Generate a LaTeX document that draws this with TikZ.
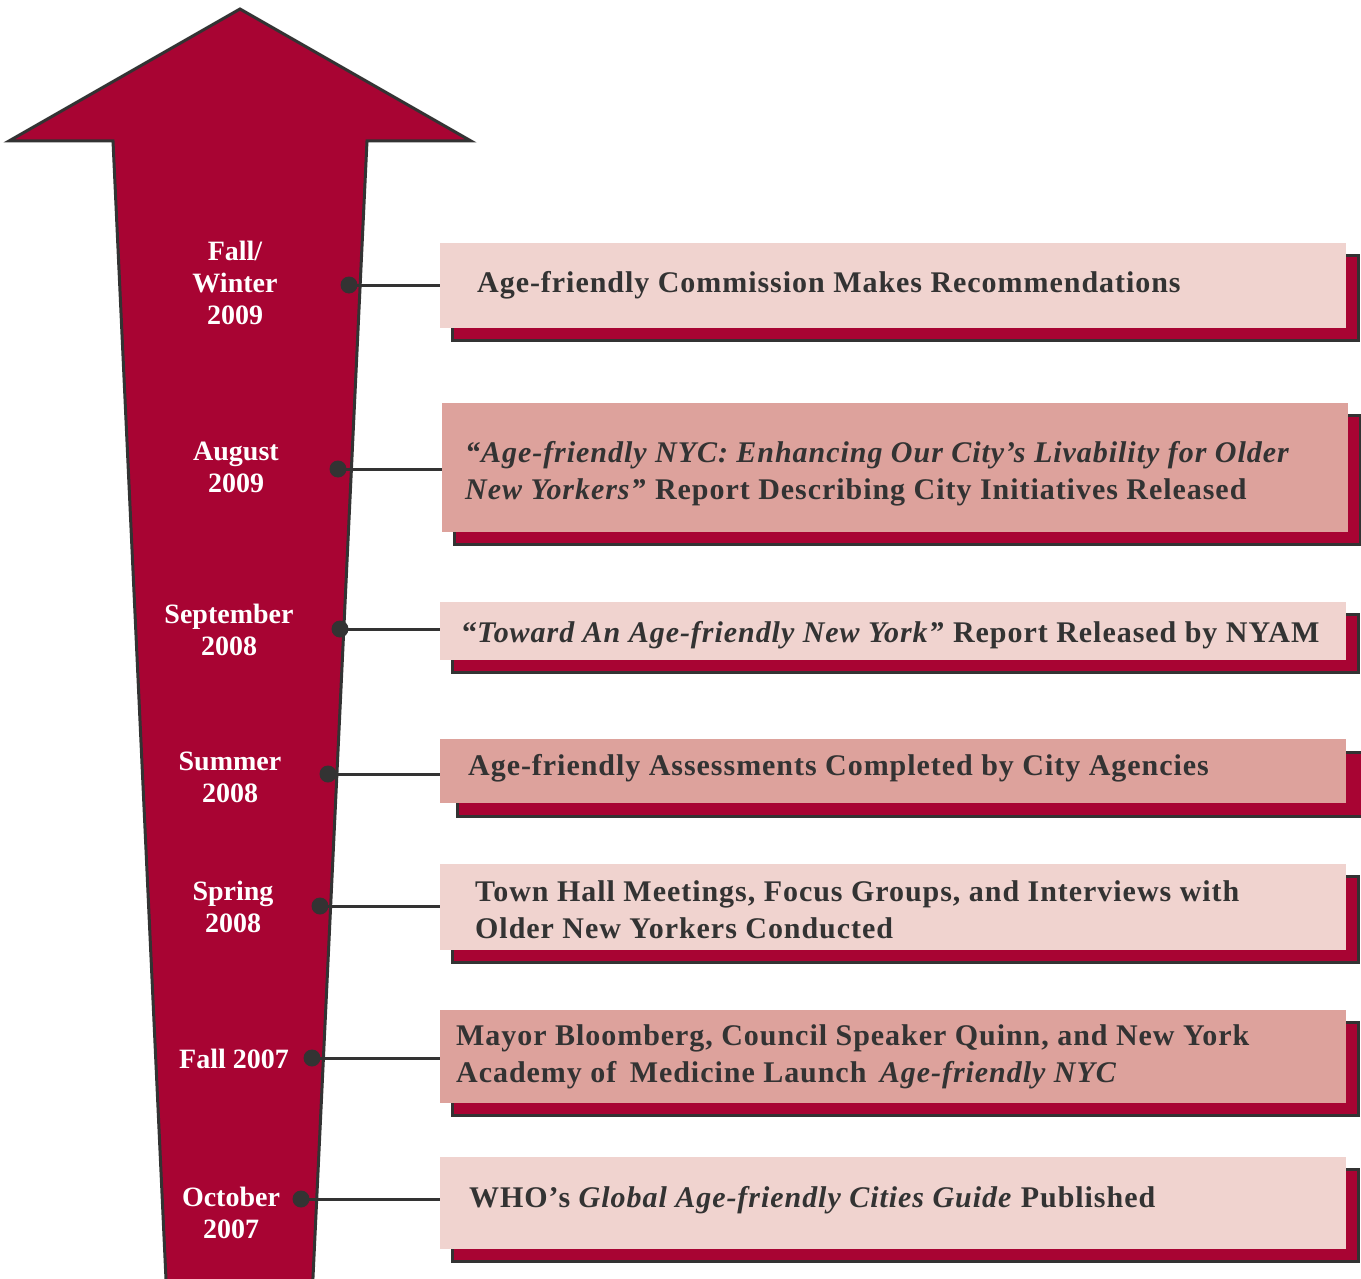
\documentclass[tikz,border=0pt]{standalone}
\usepackage{fontspec}
\setmainfont{Liberation Serif}
\newfontfamily\boxfont[LetterSpace=3.2]{Liberation Serif}
\usetikzlibrary{shadows}
\definecolor{crim}{HTML}{A80433}
\definecolor{lpink}{HTML}{F0D3CF}
\definecolor{dpink}{HTML}{DDA29C}
\definecolor{ink}{HTML}{333333}
\tikzset{
  arrowshape/.style={fill=crim, draw=ink, line width=3pt, line join=miter},
  evbox/.style={anchor=north west, minimum width=906pt, inner sep=0pt, draw=none,
    copy shadow={shadow xshift=12pt, shadow yshift=-12pt, fill=crim, draw=ink, line width=3pt}},
  lightbox/.style={evbox, fill=lpink},
  darkbox/.style={evbox, fill=dpink},
  evtext/.style={anchor=west, inner sep=0pt, align=left, text=ink,
    font=\boxfont\bfseries\fontsize{30}{37}\selectfont},
  datelabel/.style={anchor=center, inner sep=0pt, align=center, text=white,
    font=\bfseries\fontsize{28}{32}\selectfont},
  dotn/.style={circle, fill=ink, minimum size=17pt, inner sep=0pt},
  conn/.style={draw=ink, line width=3pt}
}
\begin{document}
\begin{tikzpicture}[x=1pt,y=-1pt]
\useasboundingbox (0,0) rectangle (1361,1279);
\clip (0,0) rectangle (1361,1279);
% big arrow
\draw[arrowshape] (240,9) -- (471,141) -- (367,141) -- (312.4,1290) -- (166.5,1290) -- (113,141) -- (9,141) -- cycle;

% boxes
\node[lightbox, minimum height=85pt]  (b1) at (440,243)  {};
\node[darkbox,  minimum height=129pt] (b2) at (442,403)  {};
\node[lightbox, minimum height=58pt]  (b3) at (440,602)  {};
\node[anchor=north west, minimum width=906pt, minimum height=64pt, inner sep=0pt, fill=dpink,
  copy shadow={shadow xshift=17pt, shadow yshift=-13pt, fill=crim, draw=ink, line width=3pt}] (b4) at (440,739)  {};
\node[lightbox, minimum height=86pt]  (b5) at (440,864)  {};
\node[darkbox,  minimum height=93pt]  (b6) at (440,1010) {};
\node[lightbox, minimum height=92pt]  (b7) at (440,1157) {};

% box texts
\node[evtext] (t1) at (477,285) {Age-friendly Commission Makes Recommendations};
\node[evtext] (t2) at (465,474) {\textit{“Age-friendly NYC: Enhancing Our City’s Livability for Older}\\\textit{New Yorkers”} Report Describing City Initiatives Released};
\node[evtext] (t3) at (462,635) {“\textit{Toward An Age-friendly New York”} Report Released by NYAM};
\node[evtext] (t4) at (468,768) {Age-friendly Assessments Completed by City Agencies};
\node[evtext] (t5) at (475,910) {Town Hall Meetings, Focus Groups, and Interviews with\\Older New Yorkers Conducted};
\node[evtext] (t6) at (456,1057) {Mayor Bloomberg, Council Speaker Quinn, and New York\\Academy of\, Medicine Launch\, \textit{Age-friendly NYC}};
\node[evtext] (t7) at (469,1200) {WHO’s \textit{Global Age-friendly Cities Guide} Published};

% date labels
\node[datelabel] (l1) at (235,283)  {Fall/\\Winter\\2009};
\node[datelabel] (l2) at (236,467)  {August\\2009};
\node[datelabel] (l3) at (229,630)  {September\\2008};
\node[datelabel] (l4) at (230,777)  {Summer\\2008};
\node[datelabel] (l5) at (233,907)  {Spring\\2008};
\node[datelabel] (l6) at (234,1059) {Fall 2007};
\node[datelabel] (l7) at (231,1213) {October\\2007};

% dots
\node[dotn] (d1) at (349,285)  {};
\node[dotn] (d2) at (338,469)  {};
\node[dotn] (d3) at (340,629)  {};
\node[dotn] (d4) at (328,774)  {};
\node[dotn] (d5) at (320,906)  {};
\node[dotn] (d6) at (312,1058) {};
\node[dotn] (d7) at (301,1199) {};

% connectors
\foreach \i in {1,...,7} {
  \draw[conn] (d\i.center) -- (d\i.center -| b\i.west);
}
\end{tikzpicture}
\end{document}
